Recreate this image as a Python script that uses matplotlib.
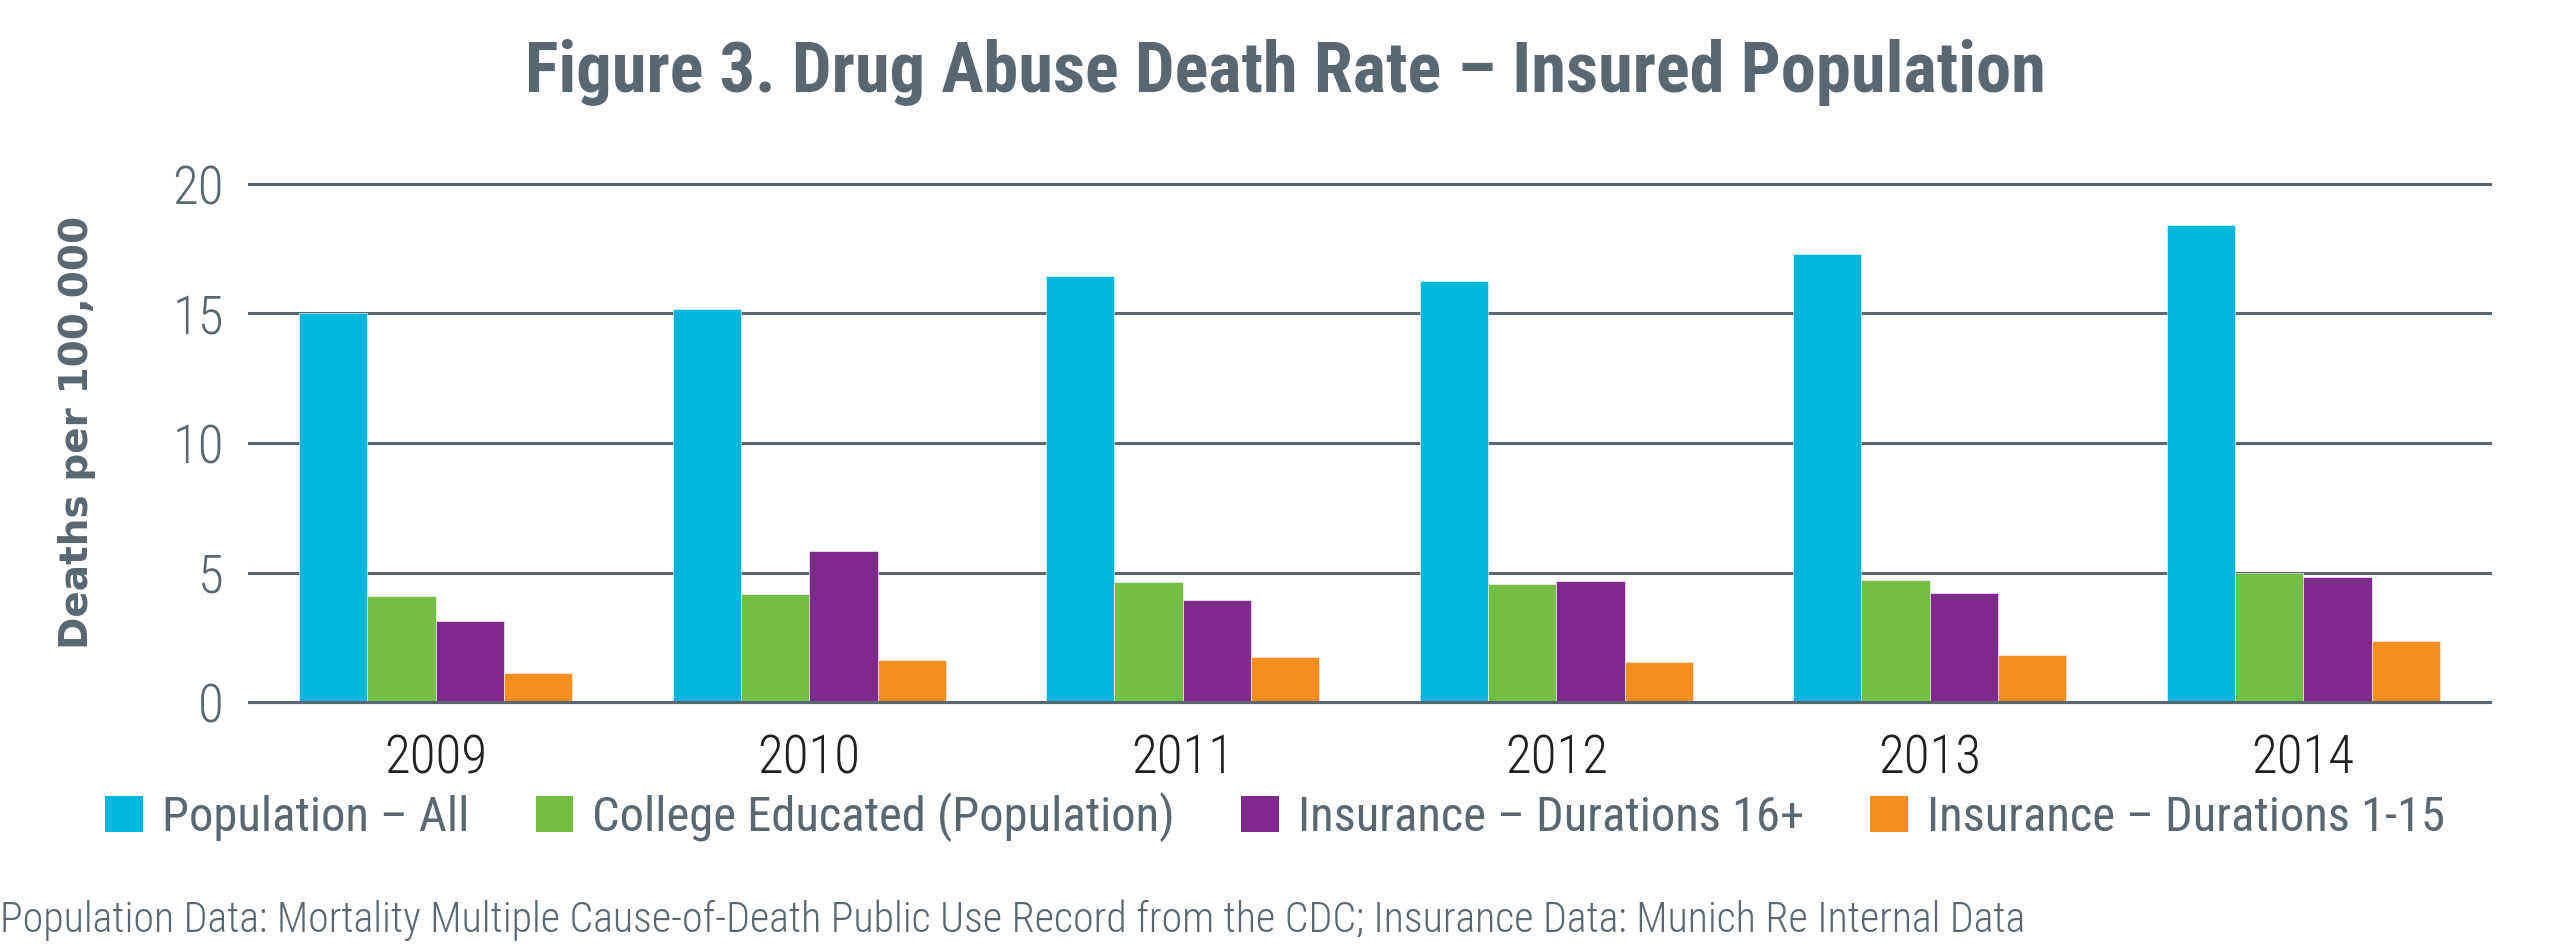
import numpy as np
import matplotlib
matplotlib.use("Agg")
import matplotlib.pyplot as plt
from matplotlib import font_manager as fm
from matplotlib.patches import Patch

# ----------------------------
# Data
# ----------------------------
years = ["2009", "2010", "2011", "2012", "2013", "2014"]
population_all = [15.0, 15.18, 16.46, 16.27, 17.28, 18.43]
college_educated = [4.08, 4.18, 4.62, 4.57, 4.72, 5.0]
insurance_16plus = [3.12, 5.82, 3.94, 4.66, 4.19, 4.82]
insurance_1_15 = [1.11, 1.61, 1.73, 1.54, 1.82, 2.35]

series_labels = [
    "Population \u2013 All",
    "College Educated (Population)",
    "Insurance \u2013 Durations 16+",
    "Insurance \u2013 Durations 1-15",
]
series_colors = ["#00b6dd", "#72bf44", "#80298f", "#f68d1f"]
y_ticks = [0, 5, 10, 15, 20]

title = "Figure 3. Drug Abuse Death Rate \u2013 Insured Population"
footer = ("Population Data: Mortality Multiple Cause-of-Death Public Use Record "
          "from the CDC; Insurance Data: Munich Re Internal Data")

GRAY = "#5b6770"

# pick a narrow family that is installed
installed = set(fm.fontManager.get_font_names())
prefs = ["Roboto Condensed", "Archivo Narrow", "IBM Plex Sans Condensed",
         "Fira Sans Condensed", "PT Sans Narrow", "Barlow Semi Condensed",
         "Encode Sans Condensed", "Asap Condensed", "Liberation Sans Narrow",
         "Roboto"]
NARROW_NAME = next((p for p in prefs if p in installed), "DejaVu Sans")
NARROW = [NARROW_NAME, "DejaVu Sans"]

# ----------------------------
# Figure
# ----------------------------
fig = plt.figure(figsize=(25.6, 9.5), dpi=100)
ax = fig.add_axes([249 / 2560, 1 - 702 / 950, (2490 - 249) / 2560, (702 - 184) / 950])

x = np.arange(len(years))
width = 0.183
all_series = [population_all, college_educated, insurance_16plus, insurance_1_15]
for i, (vals, col, lab) in enumerate(zip(all_series, series_colors, series_labels)):
    ax.bar(x + (i - 1.5) * width, vals, width, color=col, label=lab,
           edgecolor="white", linewidth=0.4, zorder=2)

ax.set_xlim(-0.5, len(years) - 0.5)
ax.set_ylim(0, 20)
ax.set_yticks(y_ticks)
ax.set_xticks(x)
ax.set_xticklabels(years)

# grid
ax.yaxis.grid(True, color=GRAY, linewidth=2.2)
ax.set_axisbelow(True)
for line in ax.get_ygridlines():
    line.set_clip_on(False)
ax.axhline(0, color=GRAY, linewidth=2.2, zorder=3, clip_on=False)

for s in ax.spines.values():
    s.set_visible(False)
ax.tick_params(axis="both", length=0)
ax.tick_params(axis="y", pad=18)
ax.tick_params(axis="x", pad=22)

for t in ax.get_yticklabels():
    t.set_family(NARROW)
    t.set_fontsize(34)
    t.set_fontweight("light")
    t.set_color(GRAY)
for t in ax.get_xticklabels():
    t.set_family(NARROW)
    t.set_fontsize(34)
    t.set_fontweight("light")
    t.set_color("#231f20")

ylab = fig.text(77 / 2560, 1 - 432 / 950, "Deaths per 100,000", rotation=90,
                ha="center", va="center", fontsize=27, fontweight="bold",
                color=GRAY, family="DejaVu Sans")

# ----------------------------
# Title / footer
# ----------------------------
ttl = fig.text(1285 / 2560, 1 - 73 / 950, title, ha="center", va="center",
               fontsize=44, fontweight="bold", color=GRAY, family=NARROW)

foot = fig.text(0.0, 1 - 920 / 950, footer, ha="left", va="center",
                fontsize=26, fontweight="light", color=GRAY, family=NARROW)

# ----------------------------
# Legend
# ----------------------------
handles = [Patch(facecolor=c, edgecolor="none") for c in series_colors]
leg = fig.legend(handles, series_labels, loc="center",
                 bbox_to_anchor=(1275 / 2560, 1 - 817 / 950), ncol=4,
                 frameon=False, handlelength=0.8, handleheight=0.8,
                 handletextpad=0.4, columnspacing=1.4, borderpad=0,
                 prop={"family": NARROW, "size": 34})
for t in leg.get_texts():
    t.set_color(GRAY)

# scale font sizes so the texts take the widths they have in the reference
renderer = fig.canvas.get_renderer()
for artist, target in [(ttl, 1521), (foot, 2025)]:
    w = artist.get_window_extent(renderer).width
    artist.set_fontsize(artist.get_fontsize() * target / w)
h = ylab.get_window_extent(renderer).height
ylab.set_fontsize(ylab.get_fontsize() * 433 / h)

ref_tick = ax.get_xticklabels()[0]
w = ref_tick.get_window_extent(renderer).width
tick_size = ref_tick.get_fontsize() * 103 / w
for t in ax.get_xticklabels() + ax.get_yticklabels():
    t.set_fontsize(tick_size)

for _ in range(2):
    w = leg.get_window_extent(renderer).width
    new_size = leg.get_texts()[0].get_fontsize() * 2341 / w
    for t in leg.get_texts():
        t.set_fontsize(new_size)
    fig.canvas.draw()

fig.savefig("out.png", dpi=100)
